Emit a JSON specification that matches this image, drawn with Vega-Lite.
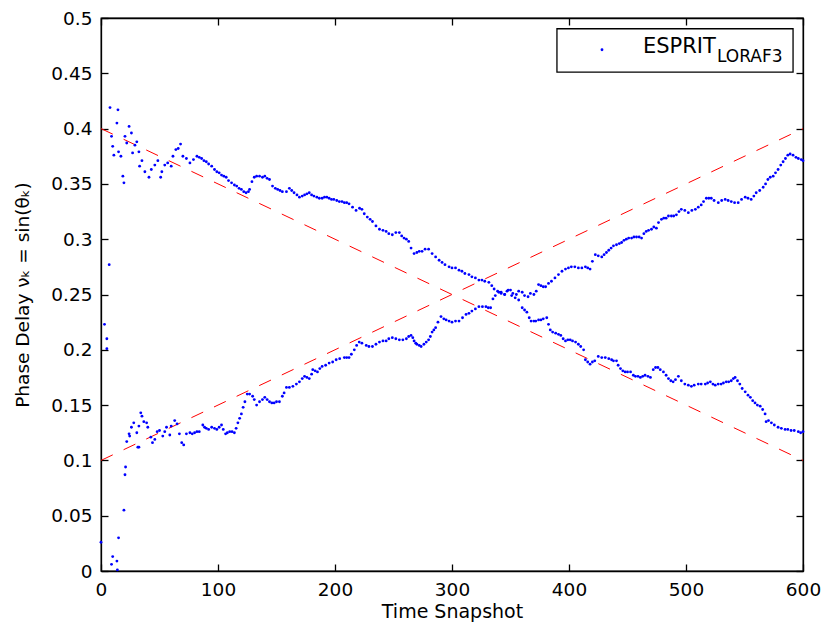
{
  "$schema": "https://vega.github.io/schema/vega-lite/v6.json",
  "width": 702,
  "height": 553,
  "autosize": {"type": "none"},
  "padding": {"left": 101, "top": 18, "right": 21, "bottom": 58},
  "background": "white",
  "config": {
    "view": {"stroke": "black", "strokeWidth": 1.3},
    "font": "DejaVu Sans",
    "axis": {
      "domainColor": "black", "domainWidth": 1.3, "tickColor": "black", "tickWidth": 1.3,
      "tickSize": -7, "grid": false, "labelColor": "black", "labelFont": "DejaVu Sans",
      "labelFontSize": 18.5, "titleFont": "DejaVu Sans", "titleFontSize": 19,
      "titleFontWeight": "normal", "titleColor": "black", "labelFlush": false
    }
  },
  "datasets": {
    "truth": [
      {"t": 0, "v": 0.4, "s": "a"}, {"t": 600, "v": 0.1, "s": "a"},
      {"t": 0, "v": 0.1, "s": "b"}, {"t": 600, "v": 0.4, "s": "b"}
    ],
    "est": [
      {"t":0,"v":0.026},{"t":3,"v":0.223},{"t":5,"v":0.210},{"t":5,"v":0.201},{"t":7,"v":0.277},{"t":7.7,"v":0.419},{"t":9,"v":0.006},{"t":9,"v":0.393},{"t":10,"v":0.013},{"t":10,"v":0.384},{"t":11,"v":0.376},{"t":13.6,"v":0.009},{"t":13.6,"v":0.405},{"t":14,"v":0.001},{"t":14.5,"v":0.417},{"t":15,"v":0.030},{"t":15,"v":0.379},{"t":17,"v":0.375},{"t":18.7,"v":0.357},{"t":19.6,"v":0.055},{"t":19.6,"v":0.351},{"t":20.5,"v":0.087},{"t":20.5,"v":0.393},{"t":21,"v":0.094},{"t":22,"v":0.117},{"t":22,"v":0.387},{"t":24,"v":0.124},{"t":24,"v":0.402},{"t":24.5,"v":0.122},{"t":26,"v":0.130},{"t":26,"v":0.396},{"t":27,"v":0.378},{"t":28,"v":0.134},{"t":29,"v":0.385},{"t":30.6,"v":0.125},{"t":30.6,"v":0.388},{"t":31.5,"v":0.112},{"t":32.4,"v":0.112},{"t":32.4,"v":0.131},{"t":32.4,"v":0.379},{"t":33,"v":0.366},{"t":34,"v":0.143},{"t":35,"v":0.140},{"t":35,"v":0.371},{"t":36.6,"v":0.135},{"t":37.5,"v":0.361},{"t":39,"v":0.134},{"t":40,"v":0.130},{"t":41,"v":0.356},{"t":42.6,"v":0.121},{"t":43,"v":0.363},{"t":44,"v":0.116},{"t":46,"v":0.119},{"t":46,"v":0.367},{"t":48,"v":0.126},{"t":48.6,"v":0.371},{"t":50,"v":0.127},{"t":51,"v":0.356},{"t":52,"v":0.361},{"t":52.8,"v":0.122},{"t":54.5,"v":0.126},{"t":54.5,"v":0.367},{"t":56,"v":0.130},{"t":57,"v":0.369},{"t":58.8,"v":0.123},{"t":60,"v":0.131},{"t":60,"v":0.366},{"t":61.5,"v":0.375},{"t":63,"v":0.136},{"t":64,"v":0.381},{"t":65,"v":0.133},{"t":66,"v":0.382},{"t":67,"v":0.124},{"t":68,"v":0.386},{"t":69,"v":0.116},{"t":70,"v":0.375},{"t":70.7,"v":0.114},{"t":73,"v":0.124},{"t":73,"v":0.373},
      {"t":76,"v":0.369},{"t":79,"v":0.372},{"t":82,"v":0.375},{"t":84,"v":0.374},{"t":86,"v":0.373},{"t":88,"v":0.371},{"t":90,"v":0.370},{"t":92,"v":0.368},{"t":94.6,"v":0.366},{"t":97,"v":0.363},{"t":99,"v":0.361},{"t":101,"v":0.360},{"t":103,"v":0.358},{"t":105,"v":0.357},{"t":107,"v":0.356},{"t":109,"v":0.353},{"t":111.6,"v":0.351},{"t":114,"v":0.349},{"t":116,"v":0.348},{"t":118,"v":0.346},{"t":120,"v":0.345},{"t":122,"v":0.343},{"t":124,"v":0.342},{"t":126,"v":0.343},{"t":127,"v":0.345},{"t":129,"v":0.352},{"t":131,"v":0.356},{"t":133,"v":0.357},{"t":135.5,"v":0.357},{"t":138,"v":0.356},{"t":140,"v":0.357},{"t":142,"v":0.355},{"t":144,"v":0.354},{"t":146.6,"v":0.348},{"t":149,"v":0.346},{"t":151,"v":0.345},{"t":153,"v":0.344},{"t":155,"v":0.343},{"t":158.5,"v":0.343},{"t":161,"v":0.346},{"t":163,"v":0.344},{"t":165,"v":0.342},{"t":167.5,"v":0.340},{"t":169.6,"v":0.338},{"t":172,"v":0.339},{"t":174,"v":0.340},{"t":176,"v":0.341},{"t":178,"v":0.342},{"t":180,"v":0.340},{"t":182,"v":0.339},{"t":184.5,"v":0.338},{"t":186.6,"v":0.337},{"t":189,"v":0.337},{"t":191,"v":0.338},{"t":193,"v":0.338},{"t":195,"v":0.337},{"t":197,"v":0.336},{"t":199,"v":0.336},{"t":201.5,"v":0.335},{"t":203.7,"v":0.334},{"t":206,"v":0.334},{"t":208,"v":0.333},{"t":210,"v":0.333},{"t":212,"v":0.332},{"t":215,"v":0.329},{"t":218,"v":0.326},{"t":221,"v":0.328},{"t":223,"v":0.327},{"t":225,"v":0.323},{"t":227.6,"v":0.320},{"t":230,"v":0.318},{"t":232,"v":0.316},{"t":235,"v":0.312},{"t":238,"v":0.309},{"t":241,"v":0.308},{"t":243.7,"v":0.307},{"t":246,"v":0.305},{"t":249,"v":0.304},{"t":252,"v":0.306},{"t":255,"v":0.306},{"t":257,"v":0.303},{"t":259,"v":0.301},{"t":261,"v":0.300},{"t":263,"v":0.298},{"t":265,"v":0.292},{"t":267.6,"v":0.287},{"t":270,"v":0.288},{"t":272,"v":0.289},{"t":274.4,"v":0.289},{"t":277,"v":0.291},{"t":280,"v":0.291},{"t":283,"v":0.287},{"t":286,"v":0.284},{"t":289,"v":0.281},{"t":291.5,"v":0.279},{"t":294,"v":0.277},{"t":297.5,"v":0.275},{"t":300,"v":0.274},{"t":303,"v":0.274},{"t":306,"v":0.272},{"t":308.5,"v":0.271},{"t":311,"v":0.269},{"t":314.5,"v":0.268},{"t":317,"v":0.266},{"t":320,"v":0.265},{"t":323,"v":0.263},{"t":325.6,"v":0.263},{"t":328,"v":0.262},{"t":331.5,"v":0.261},{"t":334,"v":0.258},{"t":336,"v":0.255},{"t":339,"v":0.253},{"t":342,"v":0.252},{"t":345,"v":0.250},{"t":348,"v":0.254},{"t":351,"v":0.249},{"t":354,"v":0.247},{"t":357,"v":0.245},{"t":360,"v":0.238},{"t":362,"v":0.236},{"t":364,"v":0.234},{"t":366,"v":0.229},{"t":367.6,"v":0.226},{"t":370,"v":0.226},{"t":371.6,"v":0.226},{"t":374,"v":0.227},{"t":376,"v":0.227},{"t":378,"v":0.228},{"t":381,"v":0.229},{"t":382.5,"v":0.223},{"t":384,"v":0.218},{"t":386,"v":0.216},{"t":388.6,"v":0.215},{"t":391,"v":0.214},{"t":393,"v":0.213},{"t":395,"v":0.210},{"t":397,"v":0.208},{"t":399,"v":0.209},{"t":401,"v":0.209},{"t":403,"v":0.208},{"t":405.6,"v":0.207},{"t":408,"v":0.205},{"t":410,"v":0.203},{"t":412.5,"v":0.200},{"t":414,"v":0.191},{"t":416,"v":0.189},{"t":418,"v":0.187},{"t":420,"v":0.189},{"t":422,"v":0.190},{"t":425,"v":0.194},{"t":428,"v":0.193},{"t":431,"v":0.193},{"t":434,"v":0.192},{"t":436.4,"v":0.191},{"t":438,"v":0.190},{"t":440.6,"v":0.190},{"t":442,"v":0.186},{"t":444,"v":0.183},{"t":446,"v":0.181},{"t":448,"v":0.180},{"t":450,"v":0.180},{"t":452.6,"v":0.180},{"t":455,"v":0.177},{"t":456.8,"v":0.176},{"t":459,"v":0.176},{"t":461,"v":0.175},{"t":463,"v":0.176},{"t":465,"v":0.177},{"t":467.5,"v":0.176},{"t":469.6,"v":0.175},{"t":472,"v":0.182},{"t":474,"v":0.184},{"t":476,"v":0.184},{"t":478,"v":0.182},{"t":480.7,"v":0.180},{"t":483,"v":0.177},{"t":485,"v":0.174},{"t":487,"v":0.172},{"t":489,"v":0.171},{"t":491,"v":0.173},{"t":493.5,"v":0.176},{"t":496,"v":0.172},{"t":499,"v":0.169},{"t":502,"v":0.168},{"t":504.6,"v":0.167},{"t":507,"v":0.168},{"t":510.5,"v":0.169},{"t":513,"v":0.169},{"t":516.5,"v":0.169},{"t":518.5,"v":0.170},{"t":520.8,"v":0.171},{"t":523,"v":0.169},{"t":525,"v":0.168},{"t":527.5,"v":0.169},{"t":530,"v":0.169},{"t":532,"v":0.170},{"t":534.4,"v":0.171},{"t":536.5,"v":0.171},{"t":538.7,"v":0.172},{"t":540.5,"v":0.174},{"t":542,"v":0.175},{"t":544,"v":0.172},{"t":546,"v":0.169},{"t":548,"v":0.165},{"t":550.6,"v":0.162},{"t":553,"v":0.159},{"t":555,"v":0.157},{"t":557,"v":0.154},{"t":559,"v":0.152},{"t":561,"v":0.150},{"t":563.4,"v":0.149},{"t":565.5,"v":0.146},{"t":567.6,"v":0.142},{"t":568.5,"v":0.135},{"t":570.5,"v":0.136},{"t":573,"v":0.134},{"t":575.5,"v":0.132},{"t":578.7,"v":0.130},{"t":581.5,"v":0.129},{"t":584.7,"v":0.128},{"t":587,"v":0.128},{"t":589.8,"v":0.127},{"t":592.5,"v":0.127},{"t":596,"v":0.126},{"t":598,"v":0.125},{"t":600,"v":0.126},
      {"t":76,"v":0.125},{"t":78,"v":0.124},{"t":80,"v":0.125},{"t":82,"v":0.126},{"t":84,"v":0.126},{"t":87,"v":0.132},{"t":88.5,"v":0.130},{"t":90,"v":0.129},{"t":92,"v":0.128},{"t":94.6,"v":0.130},{"t":97,"v":0.129},{"t":99,"v":0.128},{"t":101,"v":0.130},{"t":103,"v":0.132},{"t":104.5,"v":0.128},{"t":106.5,"v":0.124},{"t":108,"v":0.125},{"t":110,"v":0.126},{"t":112,"v":0.126},{"t":114,"v":0.125},{"t":115.5,"v":0.129},{"t":117,"v":0.134},{"t":118.5,"v":0.138},{"t":120,"v":0.142},{"t":121.5,"v":0.148},{"t":123,"v":0.153},{"t":125,"v":0.160},{"t":127,"v":0.160},{"t":129.6,"v":0.158},{"t":131,"v":0.155},{"t":133,"v":0.150},{"t":135.5,"v":0.153},{"t":138,"v":0.155},{"t":140,"v":0.157},{"t":142,"v":0.155},{"t":144,"v":0.153},{"t":146,"v":0.152},{"t":148,"v":0.152},{"t":150,"v":0.153},{"t":152.5,"v":0.153},{"t":155,"v":0.158},{"t":156.5,"v":0.161},{"t":158.5,"v":0.166},{"t":161,"v":0.166},{"t":164,"v":0.167},{"t":167,"v":0.169},{"t":169.6,"v":0.171},{"t":172,"v":0.174},{"t":174,"v":0.176},{"t":176,"v":0.175},{"t":178,"v":0.174},{"t":180,"v":0.178},{"t":181,"v":0.182},{"t":183,"v":0.181},{"t":185,"v":0.180},{"t":187,"v":0.183},{"t":189,"v":0.185},{"t":192,"v":0.186},{"t":195,"v":0.188},{"t":198,"v":0.189},{"t":201,"v":0.191},{"t":204,"v":0.192},{"t":208,"v":0.193},{"t":210,"v":0.193},{"t":212,"v":0.193},{"t":214,"v":0.196},{"t":216.5,"v":0.200},{"t":218.5,"v":0.204},{"t":220.7,"v":0.207},{"t":223,"v":0.206},{"t":226.7,"v":0.204},{"t":229,"v":0.203},{"t":232,"v":0.203},{"t":235,"v":0.205},{"t":238,"v":0.207},{"t":241,"v":0.208},{"t":243.7,"v":0.208},{"t":246,"v":0.210},{"t":249,"v":0.211},{"t":252,"v":0.210},{"t":255,"v":0.209},{"t":258,"v":0.209},{"t":261,"v":0.210},{"t":263,"v":0.212},{"t":265,"v":0.213},{"t":266.5,"v":0.211},{"t":267.6,"v":0.208},{"t":269,"v":0.206},{"t":270,"v":0.205},{"t":272,"v":0.204},{"t":273.6,"v":0.203},{"t":276,"v":0.205},{"t":278,"v":0.207},{"t":280,"v":0.209},{"t":281.5,"v":0.212},{"t":283,"v":0.216},{"t":284.5,"v":0.218},{"t":286,"v":0.220},{"t":288,"v":0.225},{"t":290.6,"v":0.230},{"t":293,"v":0.228},{"t":295,"v":0.227},{"t":297.5,"v":0.226},{"t":300,"v":0.225},{"t":303,"v":0.226},{"t":306,"v":0.226},{"t":309,"v":0.229},{"t":312,"v":0.232},{"t":314.5,"v":0.233},{"t":317,"v":0.235},{"t":320,"v":0.237},{"t":323,"v":0.239},{"t":326,"v":0.239},{"t":329,"v":0.239},{"t":331,"v":0.238},{"t":333,"v":0.238},{"t":335,"v":0.246},{"t":337,"v":0.249},{"t":340,"v":0.252},{"t":342,"v":0.251},{"t":345,"v":0.250},{"t":347,"v":0.253},{"t":350,"v":0.254},{"t":352,"v":0.251},{"t":355,"v":0.250},{"t":357,"v":0.253},{"t":360,"v":0.252},{"t":362,"v":0.249},{"t":365,"v":0.248},{"t":367,"v":0.251},{"t":370,"v":0.250},{"t":372,"v":0.253},{"t":374,"v":0.259},{"t":376,"v":0.258},{"t":378,"v":0.257},{"t":380,"v":0.257},{"t":382.5,"v":0.260},{"t":385,"v":0.262},{"t":388,"v":0.265},{"t":391,"v":0.268},{"t":394,"v":0.271},{"t":397,"v":0.273},{"t":399.5,"v":0.274},{"t":402,"v":0.275},{"t":405,"v":0.275},{"t":408,"v":0.274},{"t":411,"v":0.274},{"t":414,"v":0.275},{"t":416,"v":0.274},{"t":418,"v":0.273},{"t":420,"v":0.280},{"t":422.5,"v":0.286},{"t":425,"v":0.285},{"t":428,"v":0.284},{"t":430,"v":0.286},{"t":432,"v":0.288},{"t":434,"v":0.290},{"t":436,"v":0.292},{"t":438,"v":0.294},{"t":440.6,"v":0.295},{"t":443,"v":0.296},{"t":445,"v":0.297},{"t":447,"v":0.299},{"t":449,"v":0.300},{"t":451,"v":0.301},{"t":453.5,"v":0.301},{"t":455.5,"v":0.302},{"t":457.7,"v":0.302},{"t":460,"v":0.302},{"t":462,"v":0.301},{"t":464,"v":0.305},{"t":466,"v":0.307},{"t":468,"v":0.308},{"t":470.5,"v":0.309},{"t":472.5,"v":0.311},{"t":474.7,"v":0.310},{"t":476.5,"v":0.315},{"t":479,"v":0.318},{"t":481,"v":0.319},{"t":483,"v":0.319},{"t":485,"v":0.321},{"t":487.5,"v":0.321},{"t":489.5,"v":0.321},{"t":491.8,"v":0.322},{"t":494,"v":0.325},{"t":496,"v":0.327},{"t":499,"v":0.326},{"t":502,"v":0.324},{"t":505,"v":0.326},{"t":508,"v":0.327},{"t":510.5,"v":0.329},{"t":513,"v":0.331},{"t":515,"v":0.334},{"t":517.4,"v":0.337},{"t":519.5,"v":0.337},{"t":521.6,"v":0.337},{"t":524,"v":0.335},{"t":527.6,"v":0.333},{"t":530.5,"v":0.335},{"t":533.5,"v":0.336},{"t":536,"v":0.335},{"t":538.7,"v":0.334},{"t":541.5,"v":0.333},{"t":544.6,"v":0.333},{"t":547.5,"v":0.336},{"t":550.6,"v":0.338},{"t":553,"v":0.337},{"t":555.7,"v":0.336},{"t":558,"v":0.339},{"t":560,"v":0.342},{"t":563,"v":0.344},{"t":566,"v":0.347},{"t":568,"v":0.350},{"t":570,"v":0.354},{"t":572,"v":0.356},{"t":574.5,"v":0.357},{"t":576.5,"v":0.360},{"t":578.7,"v":0.363},{"t":581,"v":0.367},{"t":583,"v":0.370},{"t":585,"v":0.373},{"t":587,"v":0.376},{"t":589,"v":0.377},{"t":591.5,"v":0.376},{"t":594,"v":0.374},{"t":596,"v":0.373},{"t":598.5,"v":0.372},{"t":600,"v":0.371}
    ]
  },
  "layer": [
    {
      "data": {"name": "truth"},
      "mark": {"type": "line", "color": "#ff0000", "strokeWidth": 1, "strokeDash": [13, 12]},
      "encoding": {
        "x": {"field": "t", "type": "quantitative", "scale": {"domain": [0, 600], "nice": false},
              "axis": {"orient": "top", "labels": false, "title": null, "values": [0,100,200,300,400,500,600]}},
        "y": {"field": "v", "type": "quantitative", "scale": {"domain": [0, 0.5], "nice": false},
              "axis": {"orient": "right", "labels": false, "title": null, "values": [0,0.05,0.1,0.15,0.2,0.25,0.3,0.35,0.4,0.45,0.5]}},
        "detail": {"field": "s"}
      }
    },
    {
      "data": {"name": "est"},
      "mark": {"type": "point", "filled": true, "color": "#0000ff", "size": 8, "opacity": 1, "strokeWidth": 0},
      "encoding": {
        "x": {"field": "t", "type": "quantitative",
              "axis": {"orient": "bottom", "title": "Time Snapshot", "values": [0,100,200,300,400,500,600], "format": "d", "labelPadding": 16, "titlePadding": 4}},
        "y": {"field": "v", "type": "quantitative",
              "axis": {"orient": "left", "title": "Phase Delay νₖ = sin(θₖ)", "titleFontSize": 18.5, "values": [0,0.05,0.1,0.15,0.2,0.25,0.3,0.35,0.4,0.45,0.5], "format": "~g", "labelPadding": 16, "titlePadding": 18}}
      }
    },
    {
      "data": {"values": [{}]},
      "mark": {"type": "rect", "fill": "white", "stroke": "black", "strokeWidth": 1.3},
      "encoding": {
        "x": {"datum": 389.7, "type": "quantitative", "axis": null},
        "x2": {"datum": 591.5},
        "y": {"datum": 0.4903, "type": "quantitative", "axis": null},
        "y2": {"datum": 0.4511}
      }
    },
    {
      "data": {"values": [{}]},
      "mark": {"type": "point", "filled": true, "color": "#0000ff", "size": 8, "opacity": 1, "strokeWidth": 0},
      "encoding": {
        "x": {"datum": 428.2, "type": "quantitative", "axis": null},
        "y": {"datum": 0.4713, "type": "quantitative", "axis": null}
      }
    },
    {
      "data": {"values": [{}]},
      "mark": {"type": "text", "text": "ESPRIT", "font": "DejaVu Sans", "fontSize": 21, "align": "left", "baseline": "alphabetic", "color": "black"},
      "encoding": {
        "x": {"datum": 463.2, "type": "quantitative", "axis": null},
        "y": {"datum": 0.4686, "type": "quantitative", "axis": null}
      }
    },
    {
      "data": {"values": [{}]},
      "mark": {"type": "text", "text": "LORAF3", "font": "DejaVu Sans", "fontSize": 17, "align": "left", "baseline": "alphabetic", "color": "black"},
      "encoding": {
        "x": {"datum": 526.5, "type": "quantitative", "axis": null},
        "y": {"datum": 0.4598, "type": "quantitative", "axis": null}
      }
    }
  ],
  "resolve": {"axis": {"x": "independent", "y": "independent"}}
}
